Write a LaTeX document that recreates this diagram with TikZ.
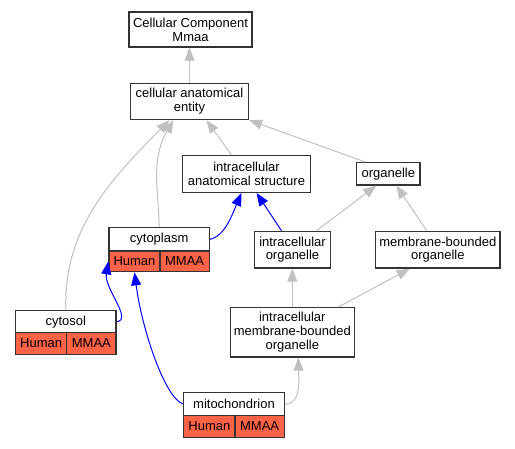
\documentclass[tikz,border=0pt]{standalone}
\usepackage{fontspec}
\setmainfont{Liberation Sans}
\usetikzlibrary{arrows.meta}
\definecolor{edgegray}{HTML}{C0C0C0}
\definecolor{cellred}{HTML}{FF6347}
\definecolor{boxline}{HTML}{333333}
\begin{document}
\begin{tikzpicture}[x=1pt,y=-1pt,
  box/.style={draw=boxline, line width=1.3pt, fill=white, inner sep=0pt, align=center,
    font=\fontsize{13}{13.8}\selectfont},
  cell/.style={box, fill=cellred},
  isa/.style={draw=edgegray, line width=1pt, -{Triangle[length=13pt,width=10pt]}},
  partof/.style={draw=blue, line width=1pt, -{Triangle[length=13pt,width=10pt]}}]
\useasboundingbox (0,0) rectangle (515,448);
% plain terms
\node[box, minimum width=123pt, minimum height=35pt] (ccm) at (190.5,29.5) {Cellular Component\\Mmaa};
\node[box, minimum width=118pt, minimum height=36pt] (cae) at (189.5,101.5) {cellular anatomical\\entity};
\node[box, minimum width=128pt, minimum height=36.5pt] (ias) at (246.5,174) {intracellular\\anatomical structure};
\node[box, minimum width=63.3pt, minimum height=22.3pt] (org) at (388.3,173.8) {organelle};
\node[box, minimum width=76.4pt, minimum height=36.7pt] (io) at (292.5,249.7) {intracellular\\organelle};
\node[box, minimum width=124.3pt, minimum height=36.7pt] (mbo) at (437.8,249.7) {membrane-bounded\\organelle};
\node[box, minimum width=124pt, minimum height=49.3pt] (imbo) at (292.3,332.3) {intracellular\\membrane-bounded\\organelle};
% records
\node[box, minimum width=100.3pt, minimum height=23.3pt] (cyto) at (159.15,239.35) {cytoplasm};
\node[cell, minimum width=51pt, minimum height=20.7pt] (cytoH) at (134.5,261.35) {Human};
\node[cell, minimum width=49.3pt, minimum height=20.7pt] (cytoM) at (184.65,261.35) {MMAA};
\node[box, minimum width=100.3pt, minimum height=22pt] (csol) at (65.85,321.7) {cytosol};
\node[cell, minimum width=51pt, minimum height=21.6pt] (csolH) at (41.2,343.5) {Human};
\node[cell, minimum width=49.3pt, minimum height=21.6pt] (csolM) at (91.35,343.5) {MMAA};
\node[box, minimum width=100.6pt, minimum height=22.6pt] (mito) at (234,404) {mitochondrion};
\node[cell, minimum width=51.3pt, minimum height=22pt] (mitoH) at (209.35,426.3) {Human};
\node[cell, minimum width=49.3pt, minimum height=22pt] (mitoM) at (259.65,426.3) {MMAA};
% is-a edges
\draw[isa] (cae.north) -- (cae.north |- ccm.south);
\draw[isa] ([xshift=-15pt]ias.north) -- ([xshift=17pt]cae.south);
\draw[isa] ([xshift=-23pt]org.north) -- (cae.south east);
\draw[isa] (cyto.north) .. controls (159,195) and (150,160) .. ([xshift=-16pt]cae.south);
\draw[isa] (csol.north) .. controls (63,230) and (110,180) .. ([xshift=-20pt]cae.south);
\draw[isa] ([xshift=24pt]io.north) -- ([xshift=-12pt]org.south);
\draw[isa] ([xshift=-11pt]mbo.north) -- ([xshift=8pt]org.south);
\draw[isa] (imbo.north) -- (imbo.north |- io.south);
\draw[isa] ([xshift=46pt]imbo.north) -- ([xshift=-28pt]mbo.south);
\draw[isa] (mito.east) .. controls (300,404) and (299,385) .. ([xshift=6pt]imbo.south);
% part-of edges
\draw[partof] (cyto.east) .. controls (225,236) and (232,215) .. ([xshift=-5pt]ias.south);
\draw[partof] ([xshift=-11pt]io.north) -- ([xshift=10pt]ias.south);
\draw[partof] (csol.east) .. controls (133,320) and (104,288) .. (cytoH.west);
\draw[partof] (mito.west) .. controls (165,398) and (142,330) .. (cytoH.south);
\end{tikzpicture}
\end{document}
